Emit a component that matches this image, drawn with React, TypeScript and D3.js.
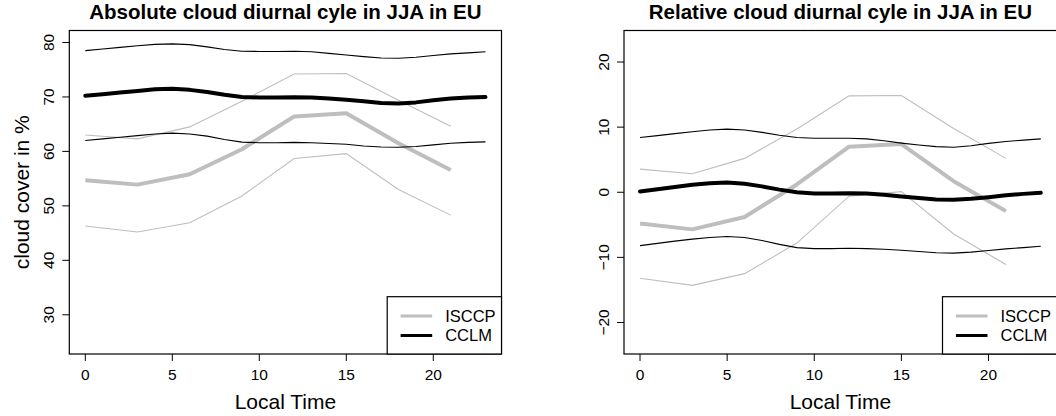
import React, { useEffect } from 'react';
import * as d3 from 'd3';

// ---------- data ----------
const isccpHours = [0, 3, 6, 9, 12, 15, 18, 21];
const cclmHours = [0, 1, 2, 3, 4, 5, 6, 7, 8, 9, 10, 11, 12, 13, 14, 15, 16, 17, 18, 19, 20, 21, 22, 23];

// Absolute (cloud cover in %)
const absIsccpMean = [54.7, 53.9, 55.8, 60.4, 66.4, 67.0, 61.5, 56.6];
const absIsccpUpper = [63.0, 62.3, 64.5, 69.2, 74.2, 74.3, 69.4, 64.6];
const absIsccpLower = [46.3, 45.2, 46.9, 51.8, 58.7, 59.6, 53.0, 48.3];
const absCclmMean = [70.2, 70.5, 70.8, 71.1, 71.4, 71.5, 71.3, 70.9, 70.4, 70.0, 69.9, 69.9, 69.95, 69.9, 69.7, 69.5, 69.2, 68.9, 68.8, 69.0, 69.4, 69.7, 69.9, 70.0];
const absCclmUpper = [78.5, 78.8, 79.1, 79.4, 79.65, 79.75, 79.6, 79.2, 78.7, 78.4, 78.35, 78.35, 78.4, 78.3, 78.0, 77.7, 77.4, 77.15, 77.1, 77.3, 77.6, 77.9, 78.1, 78.3];
const absCclmLower = [62.0, 62.3, 62.6, 62.9, 63.2, 63.35, 63.2, 62.8, 62.2, 61.7, 61.6, 61.6, 61.65, 61.6, 61.45, 61.3, 61.0, 60.8, 60.75, 60.9, 61.2, 61.5, 61.65, 61.75];

// Relative (deviation)
const relIsccpMean = [-4.8, -5.7, -3.8, 1.2, 7.0, 7.4, 1.7, -2.9];
const relIsccpUpper = [3.55, 2.85, 5.2, 9.7, 14.8, 14.85, 9.8, 5.2];
const relIsccpLower = [-13.2, -14.3, -12.5, -7.8, -0.6, 0.1, -6.4, -11.1];
const relCclmMean = [0.1, 0.45, 0.8, 1.15, 1.4, 1.5, 1.3, 0.9, 0.4, 0.0, -0.2, -0.2, -0.15, -0.2, -0.4, -0.65, -0.9, -1.1, -1.15, -1.0, -0.75, -0.45, -0.25, -0.08];
const relCclmUpper = [8.4, 8.7, 9.0, 9.3, 9.55, 9.7, 9.55, 9.2, 8.75, 8.4, 8.3, 8.3, 8.3, 8.2, 7.9, 7.55, 7.25, 7.0, 6.9, 7.15, 7.5, 7.8, 8.0, 8.2];
const relCclmLower = [-8.2, -7.85, -7.5, -7.2, -6.95, -6.8, -6.95, -7.4, -8.0, -8.5, -8.65, -8.65, -8.6, -8.65, -8.75, -8.9, -9.1, -9.3, -9.35, -9.2, -8.95, -8.7, -8.5, -8.3];

const xTicks = [0, 5, 10, 15, 20];
const absYTicks = [30, 40, 50, 60, 70, 80];
const relYTicks = [-20, -10, 0, 10, 20];
const absYLim = [25, 80];
const relYLim = [-23, 23];
const xLim = [0, 23];

const legendLabels = ['ISCCP', 'CCLM'];
const titles = ['Absolute cloud diurnal cyle in JJA in EU', 'Relative cloud diurnal cyle in JJA in EU'];

// ---------- layout ----------
const W = 1056;
const H = 416;
const FONT = "'Liberation Sans', Arial, Helvetica, sans-serif";
const GRAY = '#bebebe';

const ext = (lim: number[]) => {
  const d = (lim[1] - lim[0]) * 0.04;
  return [lim[0] - d, lim[1] + d];
};

type Panel = {
  left: number;
  right: number;
  yLim: number[];
  yTicks: number[];
  title: string;
  ylab?: string;
  isccp: number[][];
  cclm: number[][];
};

const panels: Panel[] = [
  {
    left: 69.3,
    right: 501.5,
    yLim: absYLim,
    yTicks: absYTicks,
    title: titles[0],
    ylab: 'cloud cover in %',
    isccp: [absIsccpMean, absIsccpUpper, absIsccpLower],
    cclm: [absCclmMean, absCclmUpper, absCclmLower],
  },
  {
    left: 624.0,
    right: 1056.8,
    yLim: relYLim,
    yTicks: relYTicks,
    title: titles[1],
    isccp: [relIsccpMean, relIsccpUpper, relIsccpLower],
    cclm: [relCclmMean, relCclmUpper, relCclmLower],
  },
];

const TOP = 30.5;
const BOTTOM = 354;

function PanelView({ p }: { p: Panel }) {
  const x = d3.scaleLinear().domain(ext(xLim)).range([p.left, p.right]);
  const y = d3.scaleLinear().domain(ext(p.yLim)).range([BOTTOM, TOP]);
  const line = (xs: number[]) =>
    d3
      .line<number>()
      .x((_, i) => x(xs[i]))
      .y((v) => y(v));
  const cx = (p.left + p.right) / 2;
  const lx = p.right - 114.3;
  const ly = BOTTOM - 57.3;
  return (
    <g>
      {/* ISCCP */}
      <path d={line(isccpHours)(p.isccp[1]) || ''} fill="none" stroke={GRAY} strokeWidth={1.1} />
      <path d={line(isccpHours)(p.isccp[2]) || ''} fill="none" stroke={GRAY} strokeWidth={1.1} />
      <path d={line(isccpHours)(p.isccp[0]) || ''} fill="none" stroke={GRAY} strokeWidth={4} strokeLinejoin="round" />
      {/* CCLM */}
      <path d={line(cclmHours)(p.cclm[1]) || ''} fill="none" stroke="#000" strokeWidth={1.1} />
      <path d={line(cclmHours)(p.cclm[2]) || ''} fill="none" stroke="#000" strokeWidth={1.1} />
      <path d={line(cclmHours)(p.cclm[0]) || ''} fill="none" stroke="#000" strokeWidth={4} strokeLinejoin="round" strokeLinecap="round" />

      {/* box */}
      <rect x={p.left} y={TOP} width={p.right - p.left} height={BOTTOM - TOP} fill="none" stroke="#000" strokeWidth={1.2} />

      {/* x axis */}
      {xTicks.map((t) => (
        <g key={t}>
          <line x1={x(t)} x2={x(t)} y1={BOTTOM} y2={BOTTOM + 7} stroke="#000" strokeWidth={1} />
          <text x={x(t)} y={380} textAnchor="middle" fontSize={15.5} fontFamily={FONT}>
            {t}
          </text>
        </g>
      ))}
      <text x={cx} y={408.5} textAnchor="middle" fontSize={21} fontFamily={FONT}>
        Local Time
      </text>

      {/* y axis */}
      {p.yTicks.map((t) => (
        <g key={t}>
          <line x1={p.left - 7} x2={p.left} y1={y(t)} y2={y(t)} stroke="#000" strokeWidth={1} />
          <text
            transform={`translate(${p.left - 15},${y(t)}) rotate(-90)`}
            textAnchor="middle"
            fontSize={15.5}
            fontFamily={FONT}
          >
            {t < 0 ? '\u2212' + Math.abs(t) : String(t)}
          </text>
        </g>
      ))}
      {p.ylab && (
        <text
          transform={`translate(29,${(TOP + BOTTOM) / 2}) rotate(-90)`}
          textAnchor="middle"
          fontSize={21}
          fontFamily={FONT}
        >
          {p.ylab}
        </text>
      )}

      {/* title */}
      <text x={cx} y={19} textAnchor="middle" fontSize={20.5} fontWeight="bold" fontFamily={FONT}>
        {p.title}
      </text>

      {/* legend */}
      <rect x={lx} y={ly} width={p.right - lx} height={BOTTOM - ly} fill="#fff" stroke="#000" strokeWidth={1.2} />
      {legendLabels.map((lab, i) => (
        <g key={lab}>
          <line
            x1={lx + 13.4}
            x2={lx + 45}
            y1={ly + 19.3 + i * 19.4}
            y2={ly + 19.3 + i * 19.4}
            stroke={i === 0 ? GRAY : '#000'}
            strokeWidth={3}
          />
          <text x={lx + 58} y={ly + 19.3 + i * 19.4 + 5.8} fontSize={16.5} fontFamily={FONT}>
            {lab}
          </text>
        </g>
      ))}
    </g>
  );
}

export default function App() {
  useEffect(() => {
    document.body.style.margin = '0';
  }, []);
  return (
    <svg
      width={W}
      height={H}
      viewBox={`0 0 ${W} ${H}`}
      style={{ position: 'absolute', left: 0, top: 0, background: '#fff', display: 'block' }}
    >
      <rect x={0} y={0} width={W} height={H} fill="#fff" />
      {panels.map((p, i) => (
        <PanelView key={i} p={p} />
      ))}
    </svg>
  );
}
